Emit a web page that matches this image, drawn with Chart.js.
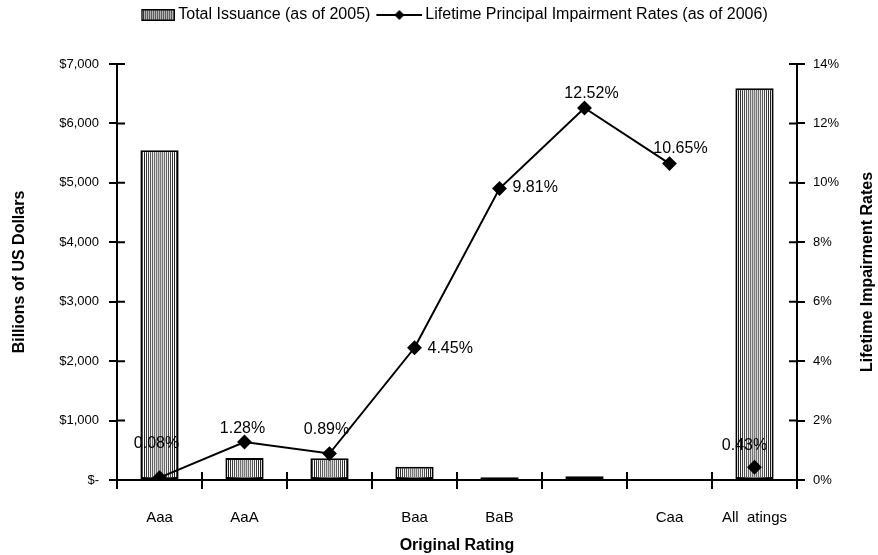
<!DOCTYPE html>
<html>
<head>
<meta charset="utf-8">
<script src="https://cdn.jsdelivr.net/npm/chart.js@4.4.1/dist/chart.umd.min.js"></script>
<style>
  html, body { margin: 0; padding: 0; background: #fff; }
  #wrap { width: 878px; height: 555px; }
</style>
</head>
<body>
<div id="wrap"><canvas id="ratingChart"></canvas></div>
<script>
// Data
const categories = ['Aaa', 'AaA', '', 'Baa', 'BaB', '', 'Caa', 'All  atings'];
const totalIssuance = [5550, 370, 365, 225, 45, 65, 0, 6590];       // billions of US$
const impairmentRates = [0.08, 1.28, 0.89, 4.45, 9.81, 12.52, 10.65, 0.43]; // percent
const issuanceAxisMax = 7000;
const issuanceStep = 1000;
const rateAxisMax = 14;
const rateStep = 2;

const fontFamily = "'Liberation Sans', Arial, sans-serif";

// where each rate label sits relative to its marker [dx, dy, align]
const rateLabelPlacement = [
    [-3, -34, 'center'], [-2, -13, 'center'], [-3, -24, 'center'], [13, 1, 'left'],
    [13, -1, 'left'], [7, -14, 'center'], [11, -15, 'center'], [-10, -22, 'center']
];

const canvas = document.getElementById('ratingChart');
const ctx = canvas.getContext('2d');

// vertical hatching used for the bars
function makeStripes() {
    const c = document.createElement('canvas');
    c.width = 2; c.height = 2;
    const g = c.getContext('2d');
    g.fillStyle = '#fff';
    g.fillRect(0, 0, 2, 2);
    g.fillStyle = '#111';
    g.fillRect(0, 0, 1, 2);
    return ctx.createPattern(c, 'repeat');
}
const stripes = makeStripes();

// legend icons (drawn as point styles), content kept to the right edge
function barIcon() {
    const c = document.createElement('canvas');
    c.width = 50; c.height = 14;
    const g = c.getContext('2d');
    g.fillStyle = stripes;
    g.fillRect(16, 1, 34, 12);
    g.strokeStyle = '#000';
    g.lineWidth = 1.5;
    g.strokeRect(16.75, 1.75, 32.5, 10.5);
    return c;
}
function lineIcon() {
    const c = document.createElement('canvas');
    c.width = 50; c.height = 14;
    const g = c.getContext('2d');
    g.strokeStyle = '#000';
    g.lineWidth = 2;
    g.beginPath();
    g.moveTo(4, 7); g.lineTo(50, 7);
    g.stroke();
    g.fillStyle = '#000';
    g.beginPath();
    g.moveTo(27, 2); g.lineTo(32, 7); g.lineTo(27, 12); g.lineTo(22, 7);
    g.closePath();
    g.fill();
    return c;
}
const legendIcons = [barIcon(), lineIcon()];

// lighter band down the middle of each bar
const barShading = {
    id: 'barShading',
    afterDatasetDraw(chart, args) {
        if (args.index !== 0) return;
        const c = chart.ctx;
        args.meta.data.forEach(bar => {
            const p = bar.getProps(['x', 'y', 'base', 'width'], true);
            if (p.base - p.y < 6) return;
            const l = p.x - p.width / 2 + 2, r = p.x + p.width / 2 - 2;
            const grad = c.createLinearGradient(l, 0, r, 0);
            grad.addColorStop(0, 'rgba(255,255,255,0)');
            grad.addColorStop(0.5, 'rgba(170,170,170,0.7)');
            grad.addColorStop(1, 'rgba(255,255,255,0)');
            c.save();
            c.fillStyle = grad;
            c.fillRect(l, p.y + 2, r - l, p.base - p.y - 3);
            c.restore();
        });
    }
};

// value labels next to the rate markers
const rateLabels = {
    id: 'rateLabels',
    afterDatasetsDraw(chart) {
        const c = chart.ctx;
        const meta = chart.getDatasetMeta(1);
        c.save();
        c.font = '16px ' + fontFamily;
        c.fillStyle = '#000';
        c.textBaseline = 'middle';
        meta.data.forEach((pt, i) => {
            const [dx, dy, align] = rateLabelPlacement[i];
            c.textAlign = align;
            c.fillText(impairmentRates[i].toFixed(2) + '%', pt.x + dx, pt.y + dy);
        });
        c.restore();
    }
};

// tick marks crossing into the plot area + right-hand title (reads bottom to top)
const axisExtras = {
    id: 'axisExtras',
    afterDraw(chart) {
        const c = chart.ctx;
        const {y, y1} = chart.scales;
        const area = chart.chartArea;
        c.save();
        c.strokeStyle = '#000';
        c.lineWidth = 2;
        c.beginPath();
        y.ticks.forEach(t => {
            const py = y.getPixelForValue(t.value);
            c.moveTo(area.left, py); c.lineTo(area.left + 8, py);
        });
        y1.ticks.forEach(t => {
            const py = y1.getPixelForValue(t.value);
            c.moveTo(area.right, py); c.lineTo(area.right - 8, py);
        });
        const step = (area.right - area.left) / categories.length;
        for (let i = 0; i <= categories.length; i++) {
            const px = area.left + i * step;
            c.moveTo(px, area.bottom); c.lineTo(px, area.bottom - 8);
        }
        c.stroke();

        c.translate(y1.right - 10, (area.top + area.bottom) / 2);
        c.rotate(-Math.PI / 2);
        c.font = 'bold 16px ' + fontFamily;
        c.fillStyle = '#000';
        c.textAlign = 'center';
        c.textBaseline = 'middle';
        c.fillText('Lifetime Impairment Rates', 0, 0);
        c.restore();
    }
};

// fixed legend height, legend row nudged right as in the reference
const legendBox = {
    id: 'legendBox',
    beforeLayout(chart) {
        const lg = chart.legend;
        if (!lg || lg._patched) return;
        const fit = lg.fit;
        lg.fit = function () {
            fit.call(this);
            this.height = 64;
        };
        lg._patched = true;
    },
    afterLayout(chart) {
        chart.legend.left += 10;
        chart.legend.right += 10;
    }
};

new Chart(ctx, {
    type: 'bar',
    data: {
        labels: categories,
        datasets: [{
            label: 'Total Issuance (as of 2005)',
            data: totalIssuance,
            backgroundColor: stripes,
            borderColor: '#000',
            borderWidth: 2,
            borderSkipped: false,
            barPercentage: 0.45,
            categoryPercentage: 1,
            yAxisID: 'y',
            order: 2
        }, {
            type: 'line',
            label: 'Lifetime Principal Impairment Rates (as of 2006)',
            data: impairmentRates,
            borderColor: '#000',
            borderWidth: 2,
            segment: {
                // no connecting line into the "all ratings" point
                borderColor: s => s.p1DataIndex === categories.length - 1 ? 'rgba(0,0,0,0)' : '#000'
            },
            pointStyle: 'rectRot',
            pointRadius: 6,
            pointBackgroundColor: '#000',
            pointBorderColor: '#000',
            tension: 0,
            yAxisID: 'y1',
            order: 1
        }]
    },
    options: {
        responsive: true,
        maintainAspectRatio: false,
        animation: false,
        layout: { padding: 0 },
        plugins: {
            tooltip: { enabled: false },
            legend: {
                position: 'top',
                labels: {
                    usePointStyle: true,
                    pointStyleWidth: 40,
                    padding: 7,
                    color: '#000',
                    font: { family: fontFamily, size: 16 },
                    generateLabels(chart) {
                        return chart.data.datasets.map((ds, i) => ({
                            text: ds.label,
                            datasetIndex: i,
                            pointStyle: legendIcons[i],
                            fillStyle: 'transparent',
                            strokeStyle: 'transparent',
                            lineWidth: 0,
                            fontColor: '#000',
                            hidden: false
                        }));
                    }
                }
            }
        },
        scales: {
            x: {
                grid: { display: true, drawOnChartArea: false, offset: true, color: '#000', lineWidth: 2, tickLength: 9 },
                border: { display: true, color: '#000', width: 2 },
                ticks: { color: '#000', font: { family: fontFamily, size: 15 }, padding: 20, maxRotation: 0, autoSkip: false },
                title: { display: true, text: 'Original Rating', color: '#000', font: { family: fontFamily, size: 16, weight: 'bold' }, padding: { top: 0, bottom: 0 } },
                afterFit(scale) { scale.height = 75; }
            },
            y: {
                position: 'left',
                min: 0,
                max: issuanceAxisMax,
                ticks: {
                    stepSize: issuanceStep,
                    color: '#000',
                    padding: 10,
                    font: { family: fontFamily, size: 13 },
                    callback: v => v === 0 ? '$-' : '$' + v.toLocaleString('en-US')
                },
                grid: { display: true, drawOnChartArea: false, color: '#000', lineWidth: 2, tickLength: 8 },
                border: { display: true, color: '#000', width: 2 },
                title: { display: true, text: 'Billions of US Dollars', color: '#000', font: { family: fontFamily, size: 16, weight: 'bold' }, padding: { top: 10, bottom: 0 } },
                afterFit(scale) { scale.width = 117; }
            },
            y1: {
                position: 'right',
                min: 0,
                max: rateAxisMax,
                ticks: {
                    stepSize: rateStep,
                    color: '#000',
                    padding: 8,
                    font: { family: fontFamily, size: 13 },
                    callback: v => v + '%'
                },
                grid: { display: true, drawOnChartArea: false, color: '#000', lineWidth: 2, tickLength: 8 },
                border: { display: true, color: '#000', width: 2 },
                afterFit(scale) { scale.width = 81; }
            }
        }
    },
    plugins: [legendBox, barShading, rateLabels, axisExtras]
});
</script>
</body>
</html>
